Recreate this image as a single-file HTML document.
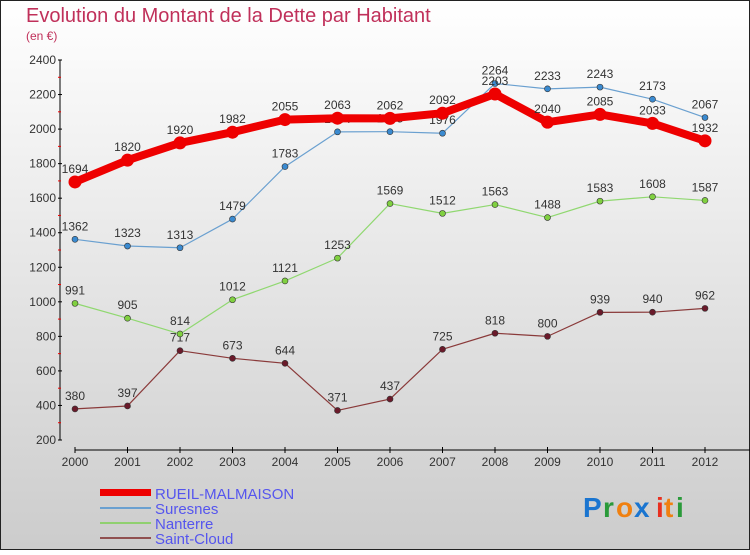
<!DOCTYPE html>
<html><head><meta charset="utf-8"><style>
body{margin:0}
#c{width:750px;height:550px;position:relative;font-family:"Liberation Sans",sans-serif}
svg text{font-family:"Liberation Sans",sans-serif}
</style></head><body>
<div id="c">
<svg id="s" width="750" height="550" xmlns="http://www.w3.org/2000/svg">
<defs><linearGradient id="bg" x1="0" y1="0" x2="0" y2="1"><stop offset="0" stop-color="#ffffff"/><stop offset="1" stop-color="#cccccc"/></linearGradient></defs>
<rect x="0.5" y="0.5" width="749" height="549" fill="url(#bg)" stroke="#222"/>
<text x="26" y="22" font-size="20" fill="#c0305a">Evolution du Montant de la Dette par Habitant</text>
<text x="26" y="40" font-size="12" fill="#c0305a">(en €)</text>
<g id="axes"></g><g id="series"></g>
<g>
<rect x="100" y="489" width="51" height="7" fill="#e00"/>
<text x="155" y="499" font-size="15" fill="#5555ee">RUEIL-MALMAISON</text>
<rect x="100" y="507" width="51" height="2" fill="#6aa0d0"/>
<text x="155" y="514" font-size="15" fill="#5555ee">Suresnes</text>
<rect x="100" y="522" width="51" height="2" fill="#90d070"/>
<text x="155" y="529" font-size="15" fill="#5555ee">Nanterre</text>
<rect x="100" y="537" width="51" height="2" fill="#905050"/>
<text x="155" y="544" font-size="15" fill="#5555ee">Saint-Cloud</text>
</g>
<g font-size="28" font-weight="bold">
<text x="583" y="517" fill="#1a75d0">P</text><text x="603" y="517" fill="#2a9a3a">r</text><text x="616" y="517" fill="#f08010">o</text><text x="634" y="517" fill="#1a75d0">x</text><text x="656" y="517" fill="#e83020">i</text><text x="664" y="517" fill="#f08010">t</text><text x="676" y="517" fill="#2a9a3a">i</text>
</g>
</svg></div>
<script>
const years=[2000,2001,2002,2003,2004,2005,2006,2007,2008,2009,2010,2011,2012];
const rueil=[1694,1820,1920,1982,2055,2063,2062,2092,2203,2040,2085,2033,1932];
const suresnes=[1362,1323,1313,1479,1783,1984,1985,1976,2264,2233,2243,2173,2067];
const nanterre=[991,905,814,1012,1121,1253,1569,1512,1563,1488,1583,1608,1587];
const saintCloud=[380,397,717,673,644,371,437,725,818,800,939,940,962];
const yTicks=[200,400,600,800,1000,1200,1400,1600,1800,2000,2200,2400];
const NS="http://www.w3.org/2000/svg";
const x=i=>75+i*52.5;
const y=v=>440-(v-200)*380/2200;
function mk(t,a,p){const e=document.createElementNS(NS,t);for(const k in a)e.setAttribute(k,a[k]);p.appendChild(e);return e;}
const ax=document.getElementById('axes');
const yl=mk('line',{x1:60,y1:60,x2:60,y2:440,stroke:'#000'},ax);


yTicks.forEach((v,i)=>{
  mk('line',{x1:58,x2:62,y1:y(v),y2:y(v),stroke:'#000'},ax);
  if(i<yTicks.length-1)mk('line',{x1:58,x2:61,y1:y(v+100),y2:y(v+100),stroke:'#e00'},ax);
  const t=mk('text',{x:56,y:y(v)+4,'font-size':12,'text-anchor':'end',fill:'#333'},ax);
  t.textContent=v;
  
  
});
const xl=mk('line',{x1:75,y1:450,x2:750,y2:450,stroke:'#000'},ax);


years.forEach((yr,i)=>{
  mk('line',{x1:x(i),x2:x(i),y1:447,y2:453,stroke:'#000'},ax);
  const t=mk('text',{x:x(i),y:466,'font-size':12,'text-anchor':'middle',fill:'#333'},ax);
  t.textContent=yr;
  
  
});
const sg=document.getElementById('series');
function draw(vals,name,col,dot,w,r){
  const g=mk('g',{},sg);
  
  
  const l=mk('polyline',{points:vals.map((v,i)=>x(i)+','+y(v)).join(' '),fill:'none',stroke:col,'stroke-width':w,'stroke-linejoin':'round'},g);
  
  
  vals.forEach((v,i)=>{
    const c=mk('circle',{cx:x(i),cy:y(v),r:r,fill:dot,stroke:'#333','stroke-width':r>4?0:0.6},g);
    
    
    const t=mk('text',{x:x(i),y:y(v)-9,'font-size':12,'text-anchor':'middle',fill:'#333'},g);
    t.textContent=v;
    
    
  });
}
draw(saintCloud,'saint-cloud','#8a3a3a','#6a1a2a',1.2,3);
draw(nanterre,'nanterre','#90d870','#80d040',1.2,3);
draw(suresnes,'suresnes','#6aa0d0','#3a8ad0',1.2,3);
draw(rueil,'rueil','#ee0000','#ee0000',8,6.5);
</script>
</body></html>
